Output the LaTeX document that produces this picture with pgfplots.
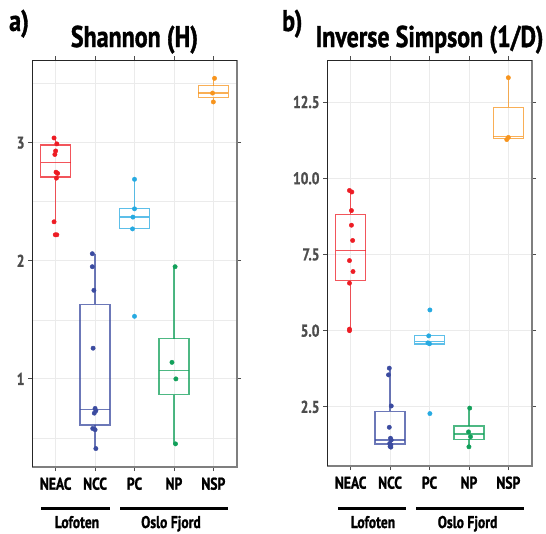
\documentclass[border=0pt]{standalone}
\usepackage{pgfplots}
\pgfplotsset{compat=1.18}
\usepgfplotslibrary{statistics}
\usepackage{fontspec}
\setmainfont{PT Sans}[FakeStretch=0.8, BoldFeatures={FakeBold=1.2}]
\definecolor{cNEAC}{HTML}{ED1C24}
\definecolor{cNCC}{HTML}{3B4BA0}
\definecolor{cPC}{HTML}{27AAE1}
\definecolor{cNP}{HTML}{12A05A}
\definecolor{cNSP}{HTML}{F7941D}
\definecolor{gridc}{HTML}{EBEBEB}
\definecolor{tickc}{HTML}{4D4D4D}
\definecolor{frameg}{HTML}{7F7F7F}
\pgfplotsset{
  panel/.style={
    scale only axis, anchor=south west,
    xmin=0.4, xmax=5.6,
    xtick={1,2,3,4,5}, xticklabels={NEAC,NCC,PC,NP,NSP},
    grid=both, major grid style={gridc, line width=0.8pt}, minor grid style={gridc, line width=0.6pt},
    axis line style={draw=none},
    tick align=outside, major tick length=4pt, minor tick length=0pt,
    tick style={tickc, line width=0.8pt},
    xticklabel style={font=\bfseries\fontsize{17}{17}\selectfont, text=black, yshift=-3pt},
    yticklabel style={font=\bfseries\fontsize{17}{17}\selectfont, text=tickc},
    /pgf/number format/assume math mode=true,
    clip=false,
    boxplot/draw direction=y,
    boxplot/every box/.style={line width=1.2pt, draw opacity=0.75},
    boxplot/every whisker/.style={line width=1.2pt, draw opacity=0.75},
    boxplot/every median/.style={line width=1.2pt, draw opacity=0.75},
  },
  bx/.style={line width=1.2pt, draw opacity=0.75, fill=none},
  pts/.style={only marks, mark=*, mark size=2.2pt},
}
\newcommand{\frameit}{%
  \draw[frameg, line width=1.8pt] (rel axis cs:0,0) -- (rel axis cs:1,0) -- (rel axis cs:1,1);
  \draw[black!85, line width=0.9pt] (rel axis cs:1,1) -- (rel axis cs:0,1) -- (rel axis cs:0,0);
}
\begin{document}
\begin{tikzpicture}
\path[use as bounding box] (0,0) rectangle (546pt,-533pt);
% ---------------- panel a
\begin{axis}[panel, at={(32pt,-467pt)}, width=205pt, height=407pt,
  ymin=0.254, ymax=3.70, ytick={1,2,3}, minor ytick={0.5,1.5,2.5,3.5}]
\addplot[bx, cNEAC, boxplot prepared={draw position=1, lower whisker=2.33, lower quartile=2.71, median=2.83, upper quartile=2.98, upper whisker=3.04, box extend=0.76, whisker extend=0}] coordinates {};
\addplot[bx, cNCC, boxplot prepared={draw position=2, lower whisker=0.41, lower quartile=0.61, median=0.74, upper quartile=1.63, upper whisker=2.06, box extend=0.76, whisker extend=0}] coordinates {};
\addplot[bx, cPC, boxplot prepared={draw position=3, lower whisker=2.27, lower quartile=2.27, median=2.37, upper quartile=2.44, upper whisker=2.69, box extend=0.76, whisker extend=0}] coordinates {};
\addplot[bx, cNP, boxplot prepared={draw position=4, lower whisker=0.45, lower quartile=0.865, median=1.07, upper quartile=1.34, upper whisker=1.95, box extend=0.76, whisker extend=0}] coordinates {};
\addplot[bx, cNSP, boxplot prepared={draw position=5, lower whisker=3.345, lower quartile=3.38, median=3.42, upper quartile=3.483, upper whisker=3.545, box extend=0.76, whisker extend=0}] coordinates {};
\addplot[pts, cNEAC] coordinates {(0.96,3.04) (1.03,2.99) (1.00,2.93) (0.98,2.90) (1.01,2.75) (1.05,2.74) (1.02,2.70) (0.96,2.33) (0.99,2.22) (1.03,2.22)};
\addplot[pts, cNCC] coordinates {(1.93,2.06) (1.93,1.95) (1.97,1.75) (1.95,1.26) (2.00,0.75) (2.02,0.73) (1.98,0.71) (1.94,0.58) (2.00,0.57) (2.02,0.41)};
\addplot[pts, cPC] coordinates {(3.00,2.69) (3.00,2.44) (2.96,2.37) (2.95,2.27) (3.00,1.53)};
\addplot[pts, cNP] coordinates {(4.03,1.95) (3.95,1.14) (4.05,1.00) (4.04,0.45)};
\addplot[pts, cNSP] coordinates {(5.03,3.545) (4.98,3.42) (5.00,3.345)};
\frameit
\end{axis}
% ---------------- panel b
\begin{axis}[panel, at={(327pt,-466pt)}, width=205pt, height=406pt,
  ymin=0.56, ymax=13.88, ytick={2.5,5,7.5,10,12.5},
  yticklabel style={/pgf/number format/.cd, fixed, fixed zerofill, precision=1}]
\addplot[bx, cNEAC, boxplot prepared={draw position=1, lower whisker=5.0, lower quartile=6.64, median=7.62, upper quartile=8.82, upper whisker=9.60, box extend=0.76, whisker extend=0}] coordinates {};
\addplot[bx, cNCC, boxplot prepared={draw position=2, lower whisker=1.18, lower quartile=1.28, median=1.41, upper quartile=2.36, upper whisker=3.77, box extend=0.76, whisker extend=0}] coordinates {};
\addplot[bx, cPC, boxplot prepared={draw position=3, lower whisker=4.56, lower quartile=4.56, median=4.64, upper quartile=4.83, upper whisker=4.83, box extend=0.76, whisker extend=0}] coordinates {};
\addplot[bx, cNP, boxplot prepared={draw position=4, lower whisker=1.19, lower quartile=1.44, median=1.61, upper quartile=1.87, upper whisker=2.46, box extend=0.76, whisker extend=0}] coordinates {};
\addplot[bx, cNSP, boxplot prepared={draw position=5, lower whisker=11.27, lower quartile=11.31, median=11.36, upper quartile=12.33, upper whisker=13.30, box extend=0.76, whisker extend=0}] coordinates {};
\addplot[pts, cNEAC] coordinates {(0.97,9.60) (1.03,9.55) (1.02,8.94) (1.02,8.46) (1.05,7.96) (0.97,7.30) (1.06,6.94) (0.97,6.56) (0.97,5.05) (0.97,5.00)};
\addplot[pts, cNCC] coordinates {(1.98,3.77) (1.96,3.55) (2.03,2.53) (1.98,1.83) (2.01,1.47) (2.03,1.41) (1.99,1.30) (2.02,1.25) (2.00,1.20) (2.02,1.18)};
\addplot[pts, cPC] coordinates {(3.01,5.68) (2.98,4.83) (2.96,4.60) (3.00,4.57) (3.01,2.28)};
\addplot[pts, cNP] coordinates {(4.02,2.46) (3.99,1.68) (4.04,1.52) (4.00,1.19)};
\addplot[pts, cNSP] coordinates {(5.00,13.30) (5.00,11.34) (4.96,11.27)};
\frameit
\end{axis}
% ---------------- titles and groups
\begin{scope}[every node/.style={inner sep=0pt}]
\node[anchor=base, font=\bfseries\fontsize{30}{30}\selectfont] at (134.5pt,-47pt) {Shannon (H)};
\node[anchor=base, font=\bfseries\fontsize{30}{30}\selectfont] at (429.5pt,-47pt) {Inverse Simpson (1/D)};
\node[anchor=base west, font=\bfseries\fontsize{30}{30}\selectfont] at (9pt,-31pt) {a)};
\node[anchor=base west, font=\bfseries\fontsize{30}{30}\selectfont] at (282pt,-31pt) {b)};
\draw[line width=2.6pt] (41pt,-508.7pt) -- (110pt,-508.7pt);
\draw[line width=2.6pt] (120pt,-508.7pt) -- (228pt,-508.7pt);
\draw[line width=2.6pt] (338pt,-508.7pt) -- (406pt,-508.7pt);
\draw[line width=2.6pt] (416pt,-508.7pt) -- (524pt,-508.7pt);
\node[anchor=base, font=\bfseries\fontsize{17}{17}\selectfont] at (77pt,-528pt) {Lofoten};
\node[anchor=base, font=\bfseries\fontsize{17}{17}\selectfont] at (171pt,-528pt) {Oslo Fjord};
\node[anchor=base, font=\bfseries\fontsize{17}{17}\selectfont] at (373pt,-528pt) {Lofoten};
\node[anchor=base, font=\bfseries\fontsize{17}{17}\selectfont] at (467.6pt,-528pt) {Oslo Fjord};
\end{scope}
\end{tikzpicture}
\end{document}
